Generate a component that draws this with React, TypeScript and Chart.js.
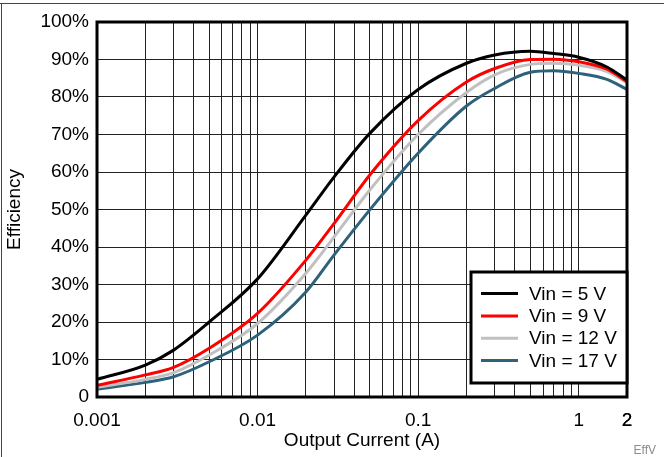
import React, { useEffect, useRef } from "react";
import { Chart, registerables } from "chart.js";

Chart.register(...registerables);

// Output current (A)
const xValues = [0.001, 0.002, 0.003, 0.005, 0.01, 0.02, 0.03, 0.05, 0.1, 0.2, 0.3, 0.5, 0.7, 1, 1.5, 2];
// Efficiency (%)
const eff5 = [4.7, 8.5, 12.5, 20, 31.5, 48.5, 58.7, 70.3, 82, 89, 91.2, 92.2, 91.6, 90.6, 88, 84.5];
const eff9 = [3.1, 5.9, 7.9, 13, 22.3, 36.5, 46.3, 59.2, 73.7, 84, 87.6, 90, 90.1, 89.4, 87.4, 84.1];
const eff12 = [2.6, 4.7, 6.5, 11.2, 19.6, 33, 42.7, 55.2, 70, 81.2, 85.9, 88.7, 89, 88.5, 86.8, 83.8];
const eff17 = [2.1, 3.9, 5.4, 9.4, 16.5, 28, 37.9, 49.9, 65, 77.6, 82.3, 86.6, 87, 86.3, 84.7, 82];

const seriesLabels = ["Vin = 5 V", "Vin = 9 V", "Vin = 12 V", "Vin = 17 V"];
const seriesColors = ["#000000", "#ff0000", "#c0c0c0", "#2e627a"];
const seriesValues = [eff5, eff9, eff12, eff17];

const xTickLabels = [0.001, 0.01, 0.1, 1, 2];
const xDecades = [0.001, 0.01, 0.1, 1];
const xMultipliers = [1, 2, 3, 4, 5, 6, 7, 8, 9];
const xMax = 2;
const yTickStep = 10;

const xTitle = "Output Current (A)";
const yTitle = "Efficiency";
const cornerNote = "EffV";

const FONT = "'Liberation Sans', Arial, Helvetica, sans-serif";

const overlayPlugin = {
  id: "overlay",
  afterDatasetsDraw(chart: any) {
    const { ctx, chartArea: ca } = chart;
    ctx.save();
    // plot border
    ctx.strokeStyle = "#000";
    ctx.lineWidth = 3;
    ctx.strokeRect(ca.left, ca.top, ca.right - ca.left, ca.bottom - ca.top);

    // legend
    const bw = 156;
    const bh = 111;
    const right = ca.right;
    const bottom = ca.bottom - 14;
    const left = right - bw;
    const top = bottom - bh;
    ctx.fillStyle = "#fff";
    ctx.fillRect(left, top, bw, bh);
    ctx.lineWidth = 3;
    ctx.strokeStyle = "#000";
    ctx.strokeRect(left, top, bw, bh);
    ctx.font = `19px ${FONT}`;
    ctx.textBaseline = "middle";
    ctx.textAlign = "left";
    chart.data.datasets.forEach((ds: any, i: number) => {
      const cy = top + 21.6 + i * 22.3;
      ctx.strokeStyle = ds.borderColor;
      ctx.lineWidth = 3;
      ctx.beginPath();
      ctx.moveTo(left + 10, cy);
      ctx.lineTo(left + 47, cy);
      ctx.stroke();
      ctx.fillStyle = "#000";
      ctx.fillText(ds.label, left + 58, cy + 1);
    });
    ctx.restore();
  },
  afterDraw(chart: any) {
    const { ctx, chartArea: ca, width, height } = chart;
    ctx.save();
    // outer frame
    ctx.strokeStyle = "#444";
    ctx.lineWidth = 1;
    ctx.beginPath();
    ctx.moveTo(0, 3.5);
    ctx.lineTo(width, 3.5);
    ctx.moveTo(1.5, 3.5);
    ctx.lineTo(1.5, height);
    ctx.stroke();

    // axis titles
    ctx.fillStyle = "#000";
    ctx.font = `19px ${FONT}`;
    ctx.textAlign = "center";
    ctx.textBaseline = "middle";
    ctx.fillText(xTitle, (ca.left + ca.right) / 2, 441);
    ctx.save();
    ctx.translate(15, (ca.top + ca.bottom) / 2);
    ctx.rotate(-Math.PI / 2);
    ctx.fillText(yTitle, 0, 0);
    ctx.restore();

    // corner note
    ctx.fillStyle = "#8c8c8c";
    ctx.font = `12px ${FONT}`;
    ctx.textAlign = "right";
    ctx.textBaseline = "alphabetic";
    ctx.fillText(cornerNote, 656, 454);
    ctx.restore();
  },
};

export default function App() {
  const canvasRef = useRef<HTMLCanvasElement | null>(null);

  useEffect(() => {
    if (!canvasRef.current) return;
    const gridValues: number[] = [];
    xDecades.forEach((d) => xMultipliers.forEach((m) => gridValues.push(d * m)));
    gridValues.push(xMax);
    const gridSet = gridValues.filter((v) => v <= xMax * 1.000001);

    const chart = new Chart(canvasRef.current, {
      type: "line",
      data: {
        datasets: seriesLabels.map((label, i) => ({
          label,
          data: xValues.map((x, j) => ({ x, y: seriesValues[i][j] })),
          borderColor: seriesColors[i],
          backgroundColor: seriesColors[i],
          borderWidth: 3,
          pointRadius: 0,
          cubicInterpolationMode: "monotone" as const,
          fill: false,
        })),
      },
      options: {
        responsive: false,
        animation: false,
        devicePixelRatio: 1,
        layout: { padding: { left: 0, top: 22, right: 37, bottom: 0 } },
        plugins: {
          legend: { display: false },
          tooltip: { enabled: false },
        },
        scales: {
          x: {
            type: "logarithmic",
            min: xValues[0],
            max: xMax,
            afterBuildTicks: (scale: any) => {
              scale.ticks = gridSet.map((v) => ({ value: v }));
            },
            afterFit: (scale: any) => {
              scale.height = 60;
            },
            ticks: {
              autoSkip: false,
              maxRotation: 0,
              minRotation: 0,
              padding: 12,
              color: "#000",
              font: { family: FONT, size: 19 },
              callback: (value: any) => {
                const v = Number(value);
                const hit = xTickLabels.find((t) => Math.abs(t / v - 1) < 1e-6);
                return hit !== undefined ? String(hit) : "";
              },
            },
            grid: { color: "#222", lineWidth: 1, drawTicks: false },
            border: { display: false },
          },
          y: {
            min: 0,
            max: 100,
            afterFit: (scale: any) => {
              scale.width = 97;
            },
            ticks: {
              stepSize: yTickStep,
              padding: 8,
              color: "#000",
              font: { family: FONT, size: 19 },
              callback: (value: any) => (Number(value) === 0 ? "0" : `${value}%`),
            },
            grid: { color: "#222", lineWidth: 1, drawTicks: false },
            border: { display: false },
          },
        },
      },
      plugins: [overlayPlugin],
    });
    return () => chart.destroy();
  }, []);

  return (
    <div style={{ position: "absolute", left: 0, top: 0, width: 664, height: 457, background: "#fff" }}>
      <canvas ref={canvasRef} width={664} height={457} style={{ width: 664, height: 457, display: "block" }} />
    </div>
  );
}
